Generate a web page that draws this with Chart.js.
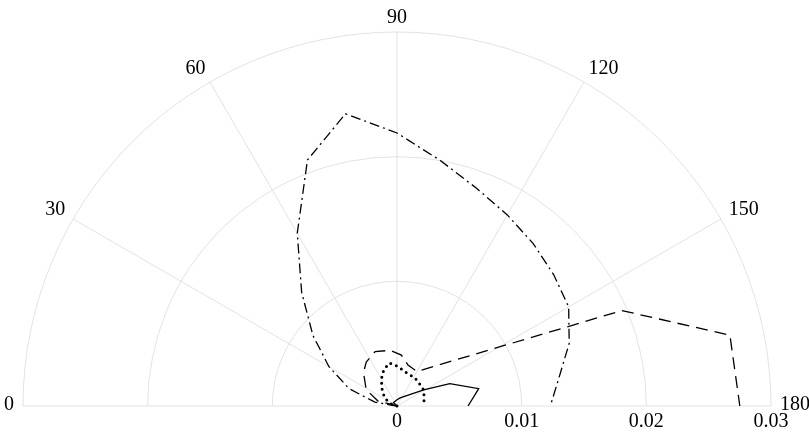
<!DOCTYPE html>
<html>
<head>
<meta charset="utf-8">
<script src="https://cdn.jsdelivr.net/npm/chart.js@4"></script>
<style>
  html, body { margin: 0; padding: 0; background: #fff; }
  #wrap { width: 809px; height: 436px; position: relative; }
</style>
</head>
<body>
<div id="wrap"><canvas id="polar"></canvas></div>
<script>
// angular / radial ticks
const angleTicks = [0, 30, 60, 90, 120, 150, 180];
const radialTicks = [0, 0.01, 0.02, 0.03];
const radialMax = 0.03;

// series, angle in degrees (0 = left, 180 = right), radius
const solidTheta = [0, 45, 90, 111, 149, 157, 168, 180];
const solidR = [0, 0.0004, 0.0005, 0.0007, 0.0025, 0.0046, 0.0067, 0.0057];

const dashedTheta = [0, 15, 28, 45, 55, 68, 83, 95, 105, 120, 157, 168, 180];
const dashedR = [0, 0.0016, 0.0028, 0.0038, 0.0043, 0.0047, 0.0045, 0.0041, 0.0034, 0.0032, 0.0196, 0.0273, 0.0275];

const dashdotTheta = [0, 10, 20, 30, 40, 50, 60, 70, 80, 90, 100, 110, 120, 130, 140, 150, 160, 170, 180];
const dashdotR = [0, 0.0018, 0.0041, 0.0063, 0.0088, 0.0119, 0.0160, 0.0210, 0.0238, 0.0219, 0.0200, 0.0186, 0.0177, 0.0170, 0.0164, 0.0159, 0.0147, 0.0132, 0.0123];

const dottedTheta = [0, 20, 30, 40, 50, 60, 70, 80, 90, 100, 110, 120, 130, 150, 160, 170, 180];
const dottedR = [0, 0.0005, 0.00096, 0.0014, 0.0019, 0.0025, 0.0031, 0.0035, 0.0032, 0.0029, 0.0027, 0.0027, 0.0026, 0.0025, 0.0023, 0.0022, 0.0022];

// polar -> cartesian data values (angle 0 points left)
function toXY(thetas, rs) {
  return thetas.map((t, i) => {
    const a = t * Math.PI / 180;
    return { x: -rs[i] * Math.cos(a), y: rs[i] * Math.sin(a) };
  });
}

function lineSet(thetas, rs, dash, width, cap) {
  return {
    data: toXY(thetas, rs),
    showLine: true,
    borderColor: '#000',
    borderWidth: width,
    borderDash: dash,
    borderCapStyle: cap || 'butt',
    pointRadius: 0,
    tension: 0,
    fill: false,
    clip: false
  };
}

const FONT = '20px "Liberation Serif", "Times New Roman", serif';
const GRID = '#e2e2e2';

// draws the half-circle polar grid and its labels
const polarGrid = {
  id: 'polarGrid',
  beforeDatasetsDraw(chart) {
    const ctx = chart.ctx;
    const xs = chart.scales.x, ys = chart.scales.y;
    const cx = xs.getPixelForValue(0), cy = ys.getPixelForValue(0);
    const pr = v => xs.getPixelForValue(v) - cx;
    const R = pr(radialMax);
    ctx.save();
    ctx.strokeStyle = GRID;
    ctx.lineWidth = 1;
    radialTicks.forEach(v => {
      if (v <= 0) return;
      ctx.beginPath();
      ctx.arc(cx, cy, pr(v), Math.PI, 2 * Math.PI);
      ctx.stroke();
    });
    angleTicks.forEach(t => {
      const a = t * Math.PI / 180;
      ctx.beginPath();
      ctx.moveTo(cx, cy);
      ctx.lineTo(cx - R * Math.cos(a), cy - R * Math.sin(a));
      ctx.stroke();
    });

    ctx.fillStyle = '#000';
    ctx.font = FONT;
    angleTicks.forEach(t => {
      const a = t * Math.PI / 180;
      const c = -Math.cos(a), s = Math.sin(a);
      const x = cx + (R + 9) * c, y = cy - (R + 9) * s;
      ctx.textAlign = Math.abs(c) < 0.1 ? 'center' : (c < 0 ? 'right' : 'left');
      ctx.textBaseline = s < 0.1 ? 'middle' : 'alphabetic';
      ctx.fillText(String(t), x, s < 0.1 ? y - 1 : y);
    });
    ctx.textAlign = 'center';
    ctx.textBaseline = 'top';
    radialTicks.forEach(v => {
      ctx.fillText(String(v), cx + pr(v), cy + 6);
    });
    ctx.restore();
  }
};

const config = {
  type: 'scatter',
  data: {
    datasets: [
      lineSet(solidTheta, solidR, [], 1.3),
      lineSet(dashedTheta, dashedR, [12, 7], 1.3),
      lineSet(dashdotTheta, dashdotR, [10, 4, 2, 4], 1.3),
      lineSet(dottedTheta, dottedR, [0, 6], 3, 'round')
    ]
  },
  options: {
    responsive: true,
    maintainAspectRatio: false,
    animation: false,
    layout: { padding: { left: 23, right: 38, top: 32, bottom: 30 } },
    plugins: { legend: { display: false }, tooltip: { enabled: false } },
    scales: {
      x: { type: 'linear', min: -radialMax, max: radialMax, display: false },
      y: { type: 'linear', min: 0, max: radialMax, display: false }
    }
  },
  plugins: [polarGrid]
};

new Chart(document.getElementById('polar'), config);
</script>
</body>
</html>
